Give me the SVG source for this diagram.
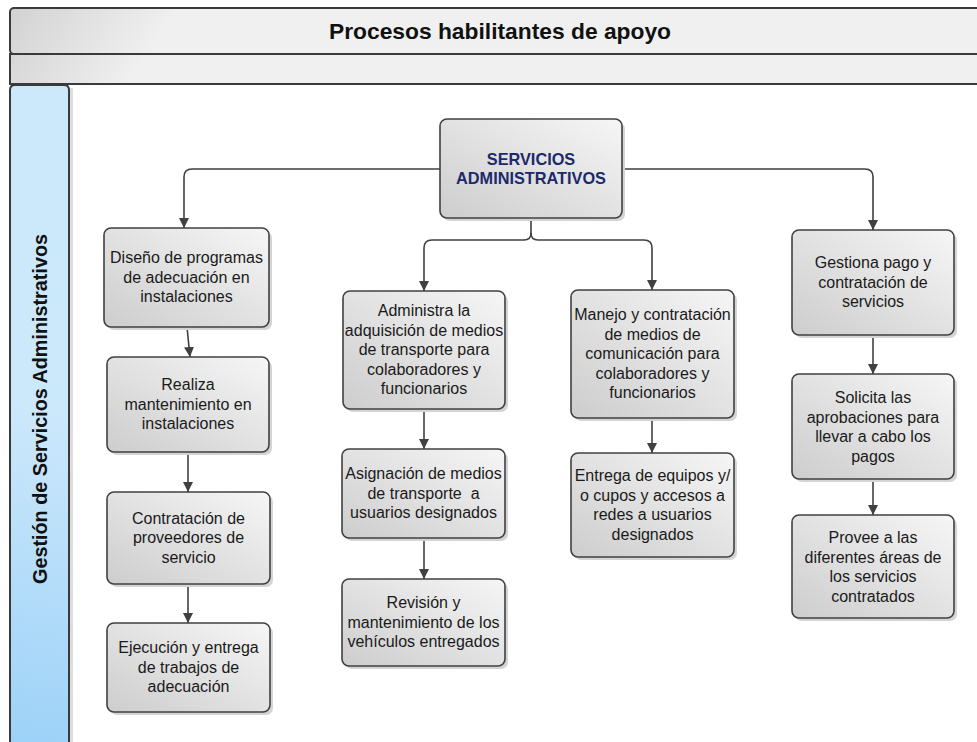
<svg xmlns="http://www.w3.org/2000/svg" width="977" height="742" viewBox="0 0 977 742">
  <style>
    .node rect.box { fill: url(#nodeFill); stroke: #404040; stroke-width: 1.6; }
    .node rect.shadow { fill: #d4d4d4; }
    .node text { font-family: "Liberation Sans", Arial, sans-serif; font-size: 16px; fill: #1a1a1a; text-anchor: middle; }
    .main text { font-weight: bold; font-size: 16.3px; fill: #1c2a6b; }
    .conn path { fill: none; stroke: #404040; stroke-width: 1.6; marker-end: url(#arrow); }
    .frame { stroke: #3a3a3a; stroke-width: 2; }
    .heading { font-family: "Liberation Sans", Arial, sans-serif; font-weight: bold; fill: #111111; text-anchor: middle; }
  </style>
  <defs>
    <linearGradient id="nodeFill" x1="0" y1="1" x2="1" y2="0">
      <stop offset="0" stop-color="#cdcdcd"/>
      <stop offset="1" stop-color="#f6f6f6"/>
    </linearGradient>
    <linearGradient id="barFill" gradientUnits="userSpaceOnUse" x1="10" y1="8" x2="120" y2="90">
      <stop offset="0" stop-color="#d2d2d2"/>
      <stop offset="1" stop-color="#f0f0f0"/>
    </linearGradient>
    <linearGradient id="bar2Fill" gradientUnits="userSpaceOnUse" x1="10" y1="54" x2="100" y2="120">
      <stop offset="0" stop-color="#d6d6d6"/>
      <stop offset="1" stop-color="#f0f0f0"/>
    </linearGradient>
    <linearGradient id="laneFill" gradientUnits="userSpaceOnUse" x1="10" y1="742" x2="80" y2="420">
      <stop offset="0" stop-color="#9dd2f8"/>
      <stop offset="1" stop-color="#cce8fb"/>
    </linearGradient>
    <marker id="arrow" viewBox="0 0 10 10" refX="10" refY="5" markerWidth="10" markerHeight="11" markerUnits="userSpaceOnUse" orient="auto">
      <path d="M0,0 L10,5 L0,10 z" fill="#404040"/>
    </marker>
  </defs>

  <rect width="977" height="742" fill="#ffffff"/>

  <!-- pool header bars -->
  <g id="pool-header">
    <rect x="10" y="8" width="990" height="46" rx="4" fill="url(#barFill)" class="frame"/>
    <rect x="10" y="54" width="990" height="30" fill="url(#bar2Fill)" class="frame"/>
    <text x="500" y="39" class="heading" font-size="22.8">Procesos habilitantes de apoyo</text>
  </g>

  <!-- lane header -->
  <g id="lane-header">
    <rect x="70" y="88" width="3" height="660" fill="#dddddd"/>
    <path d="M10,750 V90 Q10,85 15,85 H64 Q69,85 69,90 V750" fill="url(#laneFill)" class="frame"/>
    <text transform="translate(47,409) rotate(-90)" class="heading" font-size="19.8">Gestión de Servicios Administrativos</text>
  </g>

  <!-- connectors -->
  <g id="connectors" class="conn">
    <path d="M440,169 H192 Q184,169 184,177 V228"/>
    <path d="M622,169 H865 Q873,169 873,177 V230"/>
    <path d="M531,218 V233 Q531,240 524,240 H432 Q424,240 424,248 V291"/>
    <path d="M531,233 Q531,240 538,240 H644 Q652,240 652,248 V290"/>
    <path d="M187,327 L190,357"/>
    <path d="M188,452 V492"/>
    <path d="M188,584 V623"/>
    <path d="M424,409 V449"/>
    <path d="M424,538 V579"/>
    <path d="M652,418 V453"/>
    <path d="M873,335 V374"/>
    <path d="M873,479 V515"/>
  </g>

  <!-- nodes -->
  <g id="servicios-administrativos" class="node main">
    <rect class="shadow" x="443" y="122" width="182" height="99" rx="7"/>
    <rect class="box" x="440" y="119" width="182" height="99" rx="7"/>
    <text x="531" y="165">SERVICIOS</text>
    <text x="531" y="184">ADMINISTRATIVOS</text>
  </g>

  <g id="diseno-programas" class="node">
    <rect class="shadow" x="107" y="231" width="165" height="99" rx="7"/>
    <rect class="box" x="104" y="228" width="165" height="99" rx="7"/>
    <text x="186.5" y="263.3">Diseño de programas</text>
    <text x="186.5" y="282.8">de adecuación en</text>
    <text x="186.5" y="302.3">instalaciones</text>
  </g>

  <g id="realiza-mantenimiento" class="node">
    <rect class="shadow" x="110" y="360" width="162" height="95" rx="7"/>
    <rect class="box" x="107" y="357" width="162" height="95" rx="7"/>
    <text x="188" y="390.3">Realiza</text>
    <text x="188" y="409.8">mantenimiento en</text>
    <text x="188" y="429.3">instalaciones</text>
  </g>

  <g id="contratacion-proveedores" class="node">
    <rect class="shadow" x="110" y="495" width="163" height="92" rx="7"/>
    <rect class="box" x="107" y="492" width="163" height="92" rx="7"/>
    <text x="188.5" y="523.8">Contratación de</text>
    <text x="188.5" y="543.3">proveedores de</text>
    <text x="188.5" y="562.8">servicio</text>
  </g>

  <g id="ejecucion-entrega" class="node">
    <rect class="shadow" x="110" y="626" width="163" height="89" rx="7"/>
    <rect class="box" x="107" y="623" width="163" height="89" rx="7"/>
    <text x="188.5" y="653.3">Ejecución y entrega</text>
    <text x="188.5" y="672.8">de trabajos de</text>
    <text x="188.5" y="692.3">adecuación</text>
  </g>

  <g id="administra-transporte" class="node">
    <rect class="shadow" x="346" y="294" width="162" height="118" rx="7"/>
    <rect class="box" x="343" y="291" width="162" height="118" rx="7"/>
    <text x="424" y="316">Administra la</text>
    <text x="424" y="335.5">adquisición de medios</text>
    <text x="424" y="355">de transporte para</text>
    <text x="424" y="374.5">colaboradores y</text>
    <text x="424" y="394">funcionarios</text>
  </g>

  <g id="asignacion-transporte" class="node">
    <rect class="shadow" x="345" y="452" width="163" height="89" rx="7"/>
    <rect class="box" x="342" y="449" width="163" height="89" rx="7"/>
    <text x="423.5" y="479.3">Asignación de medios</text>
    <text x="423.5" y="498.8" style="white-space:pre">de transporte  a</text>
    <text x="423.5" y="518.3">usuarios designados</text>
  </g>

  <g id="revision-vehiculos" class="node">
    <rect class="shadow" x="345" y="582" width="163" height="87" rx="7"/>
    <rect class="box" x="342" y="579" width="163" height="87" rx="7"/>
    <text x="423.5" y="608.3">Revisión y</text>
    <text x="423.5" y="627.8">mantenimiento de los</text>
    <text x="423.5" y="647.3">vehículos entregados</text>
  </g>

  <g id="manejo-comunicacion" class="node">
    <rect class="shadow" x="574" y="293" width="163" height="128" rx="7"/>
    <rect class="box" x="571" y="290" width="163" height="128" rx="7"/>
    <text x="652.5" y="320">Manejo y contratación</text>
    <text x="652.5" y="339.5">de medios de</text>
    <text x="652.5" y="359">comunicación para</text>
    <text x="652.5" y="378.5">colaboradores y</text>
    <text x="652.5" y="398">funcionarios</text>
  </g>

  <g id="entrega-equipos" class="node">
    <rect class="shadow" x="574" y="456" width="163" height="104" rx="7"/>
    <rect class="box" x="571" y="453" width="163" height="104" rx="7"/>
    <text x="652.5" y="481">Entrega de equipos y/</text>
    <text x="652.5" y="500.5">o cupos y accesos a</text>
    <text x="652.5" y="520">redes a usuarios</text>
    <text x="652.5" y="539.5">designados</text>
  </g>

  <g id="gestiona-pago" class="node">
    <rect class="shadow" x="795" y="233" width="162" height="105" rx="7"/>
    <rect class="box" x="792" y="230" width="162" height="105" rx="7"/>
    <text x="873" y="268.3">Gestiona pago y</text>
    <text x="873" y="287.8">contratación de</text>
    <text x="873" y="307.3">servicios</text>
  </g>

  <g id="solicita-aprobaciones" class="node">
    <rect class="shadow" x="795" y="377" width="162" height="105" rx="7"/>
    <rect class="box" x="792" y="374" width="162" height="105" rx="7"/>
    <text x="873" y="403">Solicita las</text>
    <text x="873" y="422.5">aprobaciones para</text>
    <text x="873" y="442">llevar a cabo los</text>
    <text x="873" y="461.5">pagos</text>
  </g>

  <g id="provee-areas" class="node">
    <rect class="shadow" x="795" y="518" width="162" height="103" rx="7"/>
    <rect class="box" x="792" y="515" width="162" height="103" rx="7"/>
    <text x="873" y="543">Provee a las</text>
    <text x="873" y="562.5">diferentes áreas de</text>
    <text x="873" y="582">los servicios</text>
    <text x="873" y="601.5">contratados</text>
  </g>
</svg>
